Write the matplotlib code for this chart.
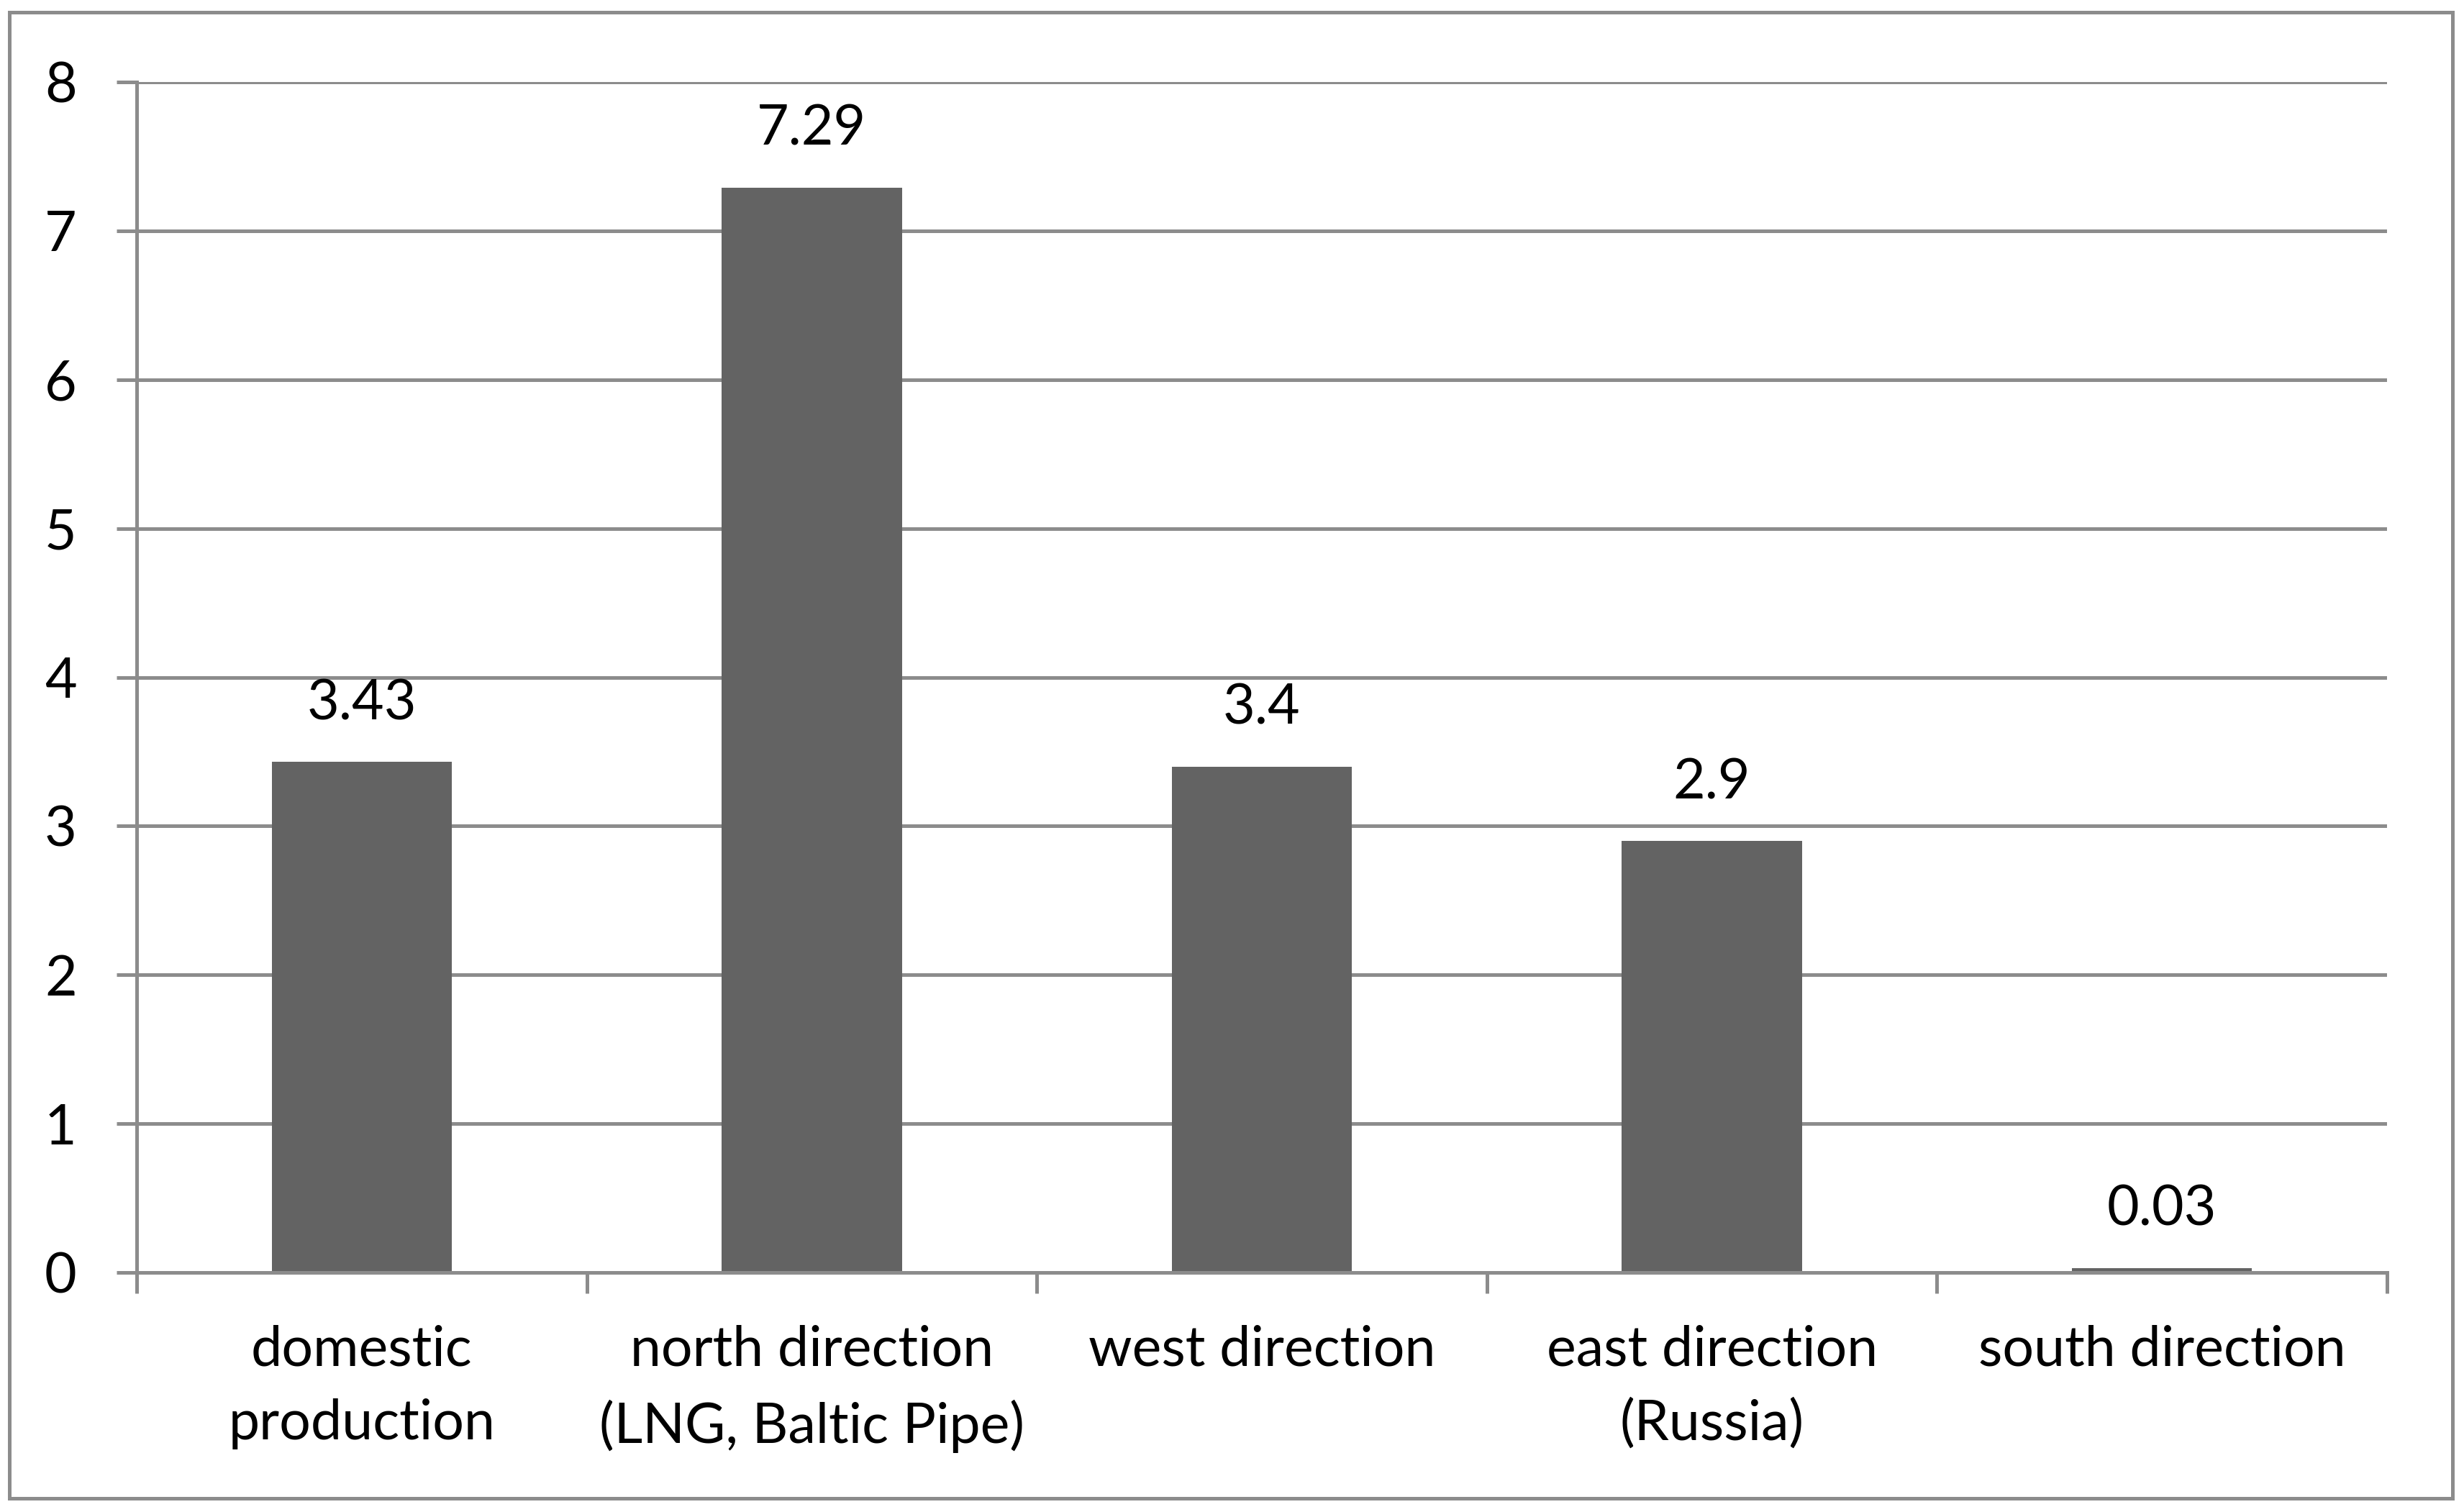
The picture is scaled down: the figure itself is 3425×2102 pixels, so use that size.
import matplotlib
matplotlib.use("Agg")
import matplotlib.pyplot as plt
from matplotlib.patches import Rectangle

categories = ["domestic\nproduction", "north direction\n(LNG, Baltic Pipe)", "west direction",
              "east direction\n(Russia)", "south direction"]
values = [3.43, 7.29, 3.4, 2.9, 0.03]
value_labels = ["3.43", "7.29", "3.4", "2.9", "0.03"]
yticks = [0, 1, 2, 3, 4, 5, 6, 7, 8]

W, H = 3425, 2102
DPI = 100
plt.rcParams['font.family'] = ['Lato', 'DejaVu Sans']
FS = 55.5
GRAY = "#8c8c8c"
LW = 3.6

fig = plt.figure(figsize=(W / DPI, H / DPI), dpi=DPI)
fig.patch.set_facecolor("white")
ax = fig.add_axes([190 / W, 1 - 1769 / H, (3318 - 190) / W, (1769 - 114) / H])

x = list(range(len(categories)))
ax.bar(x, values, width=0.4, color="#636363", zorder=3)
ax.set_xlim(-0.5, len(categories) - 0.5)
ax.set_ylim(0, 8)

ax.set_yticks(yticks)
ax.set_yticklabels([str(t) for t in yticks], fontsize=FS)
ax.yaxis.grid(True, color=GRAY, linewidth=LW, zorder=0)
ax.set_axisbelow(True)

ax.set_xticks([i - 0.5 for i in range(len(categories) + 1)])
ax.set_xticklabels([])
ax.set_xticks(x, minor=True)
ax.set_xticklabels(categories, minor=True, fontsize=FS, linespacing=1.55)
ax.tick_params(axis='x', which='minor', length=0, pad=52)
ax.tick_params(axis='x', which='major', length=21, width=LW, color=GRAY, direction='out')
ax.tick_params(axis='y', length=20, width=LW, color=GRAY, direction='out', pad=40)

for s in ["top", "right"]:
    ax.spines[s].set_visible(False)
for s in ["left", "bottom"]:
    ax.spines[s].set_color(GRAY)
    ax.spines[s].set_linewidth(LW)
    ax.spines[s].set_zorder(4)

for xi, v, lab in zip(x, values, value_labels):
    ax.annotate(lab, (xi, v), xytext=(0, 58), textcoords="offset points",
                ha="center", va="center", fontsize=FS)

fig.patches.append(Rectangle((13 / W, 1 - 2083 / H), (3409 - 13) / W, (2083 - 17) / H,
                             transform=fig.transFigure, fill=False, edgecolor=GRAY,
                             linewidth=LW, zorder=0))

fig.savefig("out.png", dpi=DPI)
